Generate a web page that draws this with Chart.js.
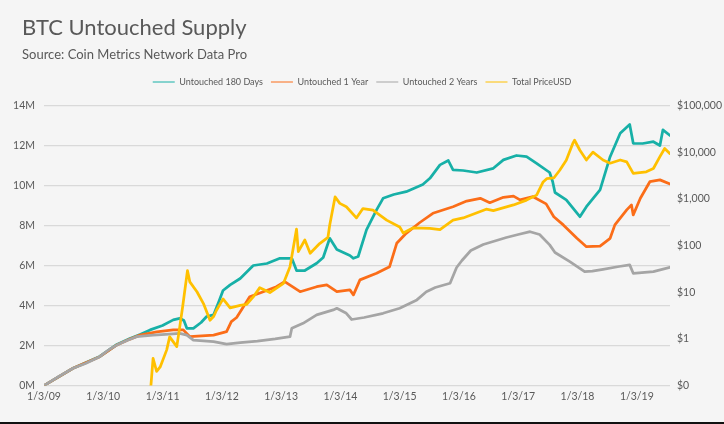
<!DOCTYPE html>
<html>
<head>
<meta charset="utf-8">
<title>BTC Untouched Supply</title>
<script src="https://cdn.jsdelivr.net/npm/chart.js@4.4.1/dist/chart.umd.min.js"></script>
<style>
    html, body { margin: 0; padding: 0; background: #f5f5f5; }
    .wrap { width: 724px; height: 422px; position: relative; }
    .edge { width: 724px; height: 2px; background: #111; }
    .title, .subtitle {
        position: absolute;
        left: 22px;
        margin: 0;
        color: #595959;
        font-family: 'Lato', sans-serif;
        font-weight: normal;
        line-height: 1;
        white-space: nowrap;
    }
    .title { top: 15.5px; font-size: 22px; }
    .subtitle { top: 47.8px; font-size: 13px; }
</style>
</head>
<body>
<div class="wrap">
    <canvas id="supplyChart"></canvas>
    <div class="title">BTC Untouched Supply</div>
    <div class="subtitle">Source: Coin Metrics Network Data Pro</div>
</div>
<div class="edge"></div>
<script>
// Dates are decimal years, 2009.0 = 1/3/09. Supply in millions of BTC.
const days180Dates = [2009.00, 2009.49, 2009.94, 2010.23, 2010.45, 2010.62, 2010.79, 2011.00, 2011.18, 2011.29,
    2011.36, 2011.41, 2011.52, 2011.65, 2011.74, 2011.86, 2011.95, 2012.02, 2012.14, 2012.31,
    2012.53, 2012.76, 2012.98, 2013.18, 2013.26, 2013.40, 2013.60, 2013.71, 2013.82, 2013.94,
    2014.16, 2014.22, 2014.30, 2014.44, 2014.61, 2014.72, 2014.90, 2015.11, 2015.39, 2015.51,
    2015.68, 2015.82, 2015.90, 2016.07, 2016.30, 2016.58, 2016.75, 2016.97, 2017.14, 2017.31,
    2017.53, 2017.58, 2017.62, 2017.81, 2018.04, 2018.15, 2018.38, 2018.55, 2018.72, 2018.88,
    2018.94, 2019.10, 2019.28, 2019.39, 2019.44, 2019.56];
const days180Supply = [0, 0.86, 1.45, 2.05, 2.35, 2.55, 2.78, 3.0, 3.28, 3.36,
    3.25, 2.86, 2.86, 3.15, 3.44, 3.53, 4.2, 4.75, 5.03, 5.35,
    6.0, 6.1, 6.36, 6.36, 5.75, 5.75, 6.11, 6.4, 7.36, 6.8,
    6.5, 6.36, 6.45, 7.78, 8.78, 9.36, 9.55, 9.69, 10.05, 10.36,
    11.03, 11.25, 10.78, 10.75, 10.65, 10.86, 11.28, 11.5, 11.44, 11.11,
    10.65, 10.2, 9.65, 9.28, 8.44, 8.94, 9.78, 11.44, 12.61, 13.05,
    12.11, 12.1, 12.19, 12.0, 12.78, 12.5];

const year1Dates = [2009.00, 2009.49, 2009.94, 2010.23, 2010.45, 2010.62, 2010.90, 2011.18, 2011.35, 2011.46,
    2011.86, 2012.08, 2012.16, 2012.25, 2012.47, 2012.70, 2012.92, 2013.06, 2013.32, 2013.60,
    2013.77, 2013.94, 2014.16, 2014.22, 2014.33, 2014.61, 2014.83, 2014.95, 2015.11, 2015.34,
    2015.56, 2015.90, 2016.13, 2016.36, 2016.52, 2016.75, 2016.92, 2017.03, 2017.25, 2017.47,
    2017.60, 2017.76, 2017.99, 2018.15, 2018.38, 2018.55, 2018.63, 2018.83, 2018.91, 2018.94,
    2019.06, 2019.22, 2019.39, 2019.56];
const year1Supply = [0, 0.86, 1.44, 2.03, 2.32, 2.52, 2.68, 2.78, 2.78, 2.44,
    2.52, 2.69, 3.19, 3.40, 4.44, 4.69, 4.94, 5.19, 4.69, 4.94,
    5.03, 4.69, 4.78, 4.53, 5.28, 5.61, 5.94, 7.11, 7.61, 8.15,
    8.61, 8.94, 9.22, 9.36, 9.14, 9.41, 9.47, 9.28, 9.44, 9.08,
    8.44, 8.03, 7.36, 6.94, 6.97, 7.36, 8.03, 8.78, 9.03, 8.53,
    9.36, 10.19, 10.28, 10.08];

const year2Dates = [2009.00, 2009.25, 2009.49, 2009.70, 2009.94, 2010.10, 2010.23, 2010.40, 2010.56, 2010.84,
    2011.05, 2011.29, 2011.41, 2011.52, 2011.86, 2012.08, 2012.31, 2012.60, 2012.90, 2013.15,
    2013.18, 2013.37, 2013.60, 2013.88, 2013.94, 2014.10, 2014.19, 2014.40, 2014.72, 2015.00,
    2015.29, 2015.45, 2015.60, 2015.85, 2015.96, 2016.05, 2016.20, 2016.41, 2016.80, 2017.00,
    2017.20, 2017.36, 2017.53, 2017.62, 2017.87, 2018.12, 2018.25, 2018.43, 2018.70, 2018.88,
    2018.94, 2019.28, 2019.56];
const year2Supply = [0, 0.45, 0.86, 1.1, 1.44, 1.8, 2.02, 2.25, 2.44, 2.52,
    2.56, 2.61, 2.52, 2.27, 2.19, 2.07, 2.14, 2.22, 2.33, 2.44,
    2.86, 3.11, 3.53, 3.78, 3.86, 3.61, 3.30, 3.40, 3.61, 3.86,
    4.28, 4.69, 4.90, 5.11, 5.90, 6.25, 6.75, 7.05, 7.40, 7.55,
    7.69, 7.55, 7.03, 6.65, 6.19, 5.69, 5.72, 5.81, 5.95, 6.03,
    5.61, 5.69, 5.91];

const priceDates = [2010.79, 2010.84, 2010.90, 2010.96, 2011.07, 2011.12, 2011.24, 2011.29, 2011.34, 2011.42,
    2011.46, 2011.58, 2011.69, 2011.80, 2011.86, 2011.91, 2012.02, 2012.14, 2012.31, 2012.42,
    2012.53, 2012.64, 2012.81, 2013.04, 2013.15, 2013.26, 2013.29, 2013.40, 2013.49, 2013.65,
    2013.79, 2013.82, 2013.91, 2013.99, 2014.10, 2014.27, 2014.38, 2014.55, 2014.78, 2015.00,
    2015.06, 2015.23, 2015.51, 2015.68, 2015.90, 2016.07, 2016.46, 2016.58, 2016.92, 2017.14,
    2017.31, 2017.42, 2017.48, 2017.60, 2017.70, 2017.81, 2017.92, 2017.95, 2018.04, 2018.15,
    2018.26, 2018.43, 2018.55, 2018.72, 2018.83, 2018.94, 2019.16, 2019.28, 2019.39, 2019.47,
    2019.56];
const priceUsd = [0.06, 0.38, 0.2, 0.25, 0.58, 1.1, 0.68, 1.8, 5, 29,
    16.6, 10.2, 5.7, 2.5, 3.0, 4.1, 7.2, 4.6, 5.2, 5.5,
    7.9, 12.5, 9.8, 15.5, 35, 225, 74, 131, 68, 110,
    150, 275, 1100, 800, 676, 390, 620, 570, 350, 250,
    185, 240, 234, 220, 350, 390, 600, 560, 740, 940,
    1200, 2300, 2700, 2800, 4100, 6700, 15400, 18000, 11000, 6800,
    10000, 6800, 5800, 6800, 6200, 3500, 3800, 4460, 8000, 12000,
    9300];

const yearTicks = [2009, 2010, 2011, 2012, 2013, 2014, 2015, 2016, 2017, 2018, 2019];
const supplyTicks = [0, 2, 4, 6, 8, 10, 12, 14];
const priceTicks = [0.1, 1, 10, 100, 1000, 10000, 100000];

const textColor = '#595959';
const fontFamily = 'Lato';

function toPoints(xs, ys) {
    return xs.map((x, i) => ({ x: x, y: ys[i] }));
}

new Chart(document.getElementById('supplyChart'), {
    type: 'line',
    data: {
        datasets: [
            {
                label: 'Untouched 180 Days',
                data: toPoints(days180Dates, days180Supply),
                borderColor: '#17b0a7',
                backgroundColor: '#17b0a7',
                xAxisID: 'x',
                yAxisID: 'y',
                order: 4
            },
            {
                label: 'Untouched 1 Year',
                data: toPoints(year1Dates, year1Supply),
                borderColor: '#fb6d18',
                backgroundColor: '#fb6d18',
                xAxisID: 'x',
                yAxisID: 'y',
                order: 3
            },
            {
                label: 'Untouched 2 Years',
                data: toPoints(year2Dates, year2Supply),
                borderColor: '#a5a5a5',
                backgroundColor: '#a5a5a5',
                xAxisID: 'x',
                yAxisID: 'y',
                order: 2
            },
            {
                label: 'Total PriceUSD',
                data: toPoints(priceDates, priceUsd),
                borderColor: '#ffc000',
                backgroundColor: '#ffc000',
                xAxisID: 'x',
                yAxisID: 'price',
                order: 1
            }
        ]
    },
    options: {
        responsive: true,
        maintainAspectRatio: false,
        animation: false,
        layout: {
            padding: { left: 0, right: 0, top: 69.5, bottom: 0 }
        },
        elements: {
            point: { radius: 0, hoverRadius: 0 },
            line: { borderWidth: 2.75, tension: 0, borderJoinStyle: 'round', borderCapStyle: 'round' }
        },
        plugins: {
            legend: {
                labels: {
                    usePointStyle: true,
                    pointStyle: 'line',
                    pointStyleWidth: 22,
                    color: textColor,
                    font: { family: fontFamily, size: 9 },
                    padding: 8,
                    sort: (a, b) => a.datasetIndex - b.datasetIndex
                }
            },
            tooltip: { enabled: false }
        },
        scales: {
            x: {
                type: 'linear',
                position: 'bottom',
                min: 2009,
                max: 2019.56,
                afterBuildTicks: scale => {
                    scale.ticks = yearTicks.map(v => ({ value: v }));
                },
                afterFit: scale => { scale.height = 36.5; },
                ticks: {
                    color: textColor,
                    font: { family: fontFamily, size: 10.5 },
                    padding: 5,
                    maxRotation: 0,
                    autoSkip: false,
                    callback: v => '1/3/' + String(v % 100).padStart(2, '0')
                },
                grid: { display: false, drawTicks: false, tickLength: 0 },
                border: { display: false }
            },
            spacer: {
                type: 'linear',
                position: 'top',
                afterFit: scale => { scale.height = 9; },
                ticks: { display: false },
                grid: { display: false, drawTicks: false },
                border: { display: false }
            },
            y: {
                position: 'left',
                min: 0,
                max: 14,
                afterBuildTicks: scale => {
                    scale.ticks = supplyTicks.map(v => ({ value: v }));
                },
                afterFit: scale => { scale.width = 44; },
                ticks: {
                    color: textColor,
                    font: { family: fontFamily, size: 10.5 },
                    padding: 9,
                    callback: v => v + 'M'
                },
                grid: { color: '#d9d9d9', lineWidth: 1.3, drawTicks: false, tickLength: 0 },
                border: { display: false }
            },
            price: {
                type: 'logarithmic',
                position: 'right',
                min: 0.1,
                max: 100000,
                afterBuildTicks: scale => {
                    scale.ticks = priceTicks.map(v => ({ value: v }));
                },
                afterFit: scale => { scale.width = 54; },
                ticks: {
                    color: textColor,
                    font: { family: fontFamily, size: 10.5 },
                    padding: 7,
                    callback: v => '$' + Math.floor(v).toLocaleString('en-US')
                },
                grid: { display: false, drawTicks: false, tickLength: 0 },
                border: { display: false }
            }
        }
    }
});
</script>
</body>
</html>
